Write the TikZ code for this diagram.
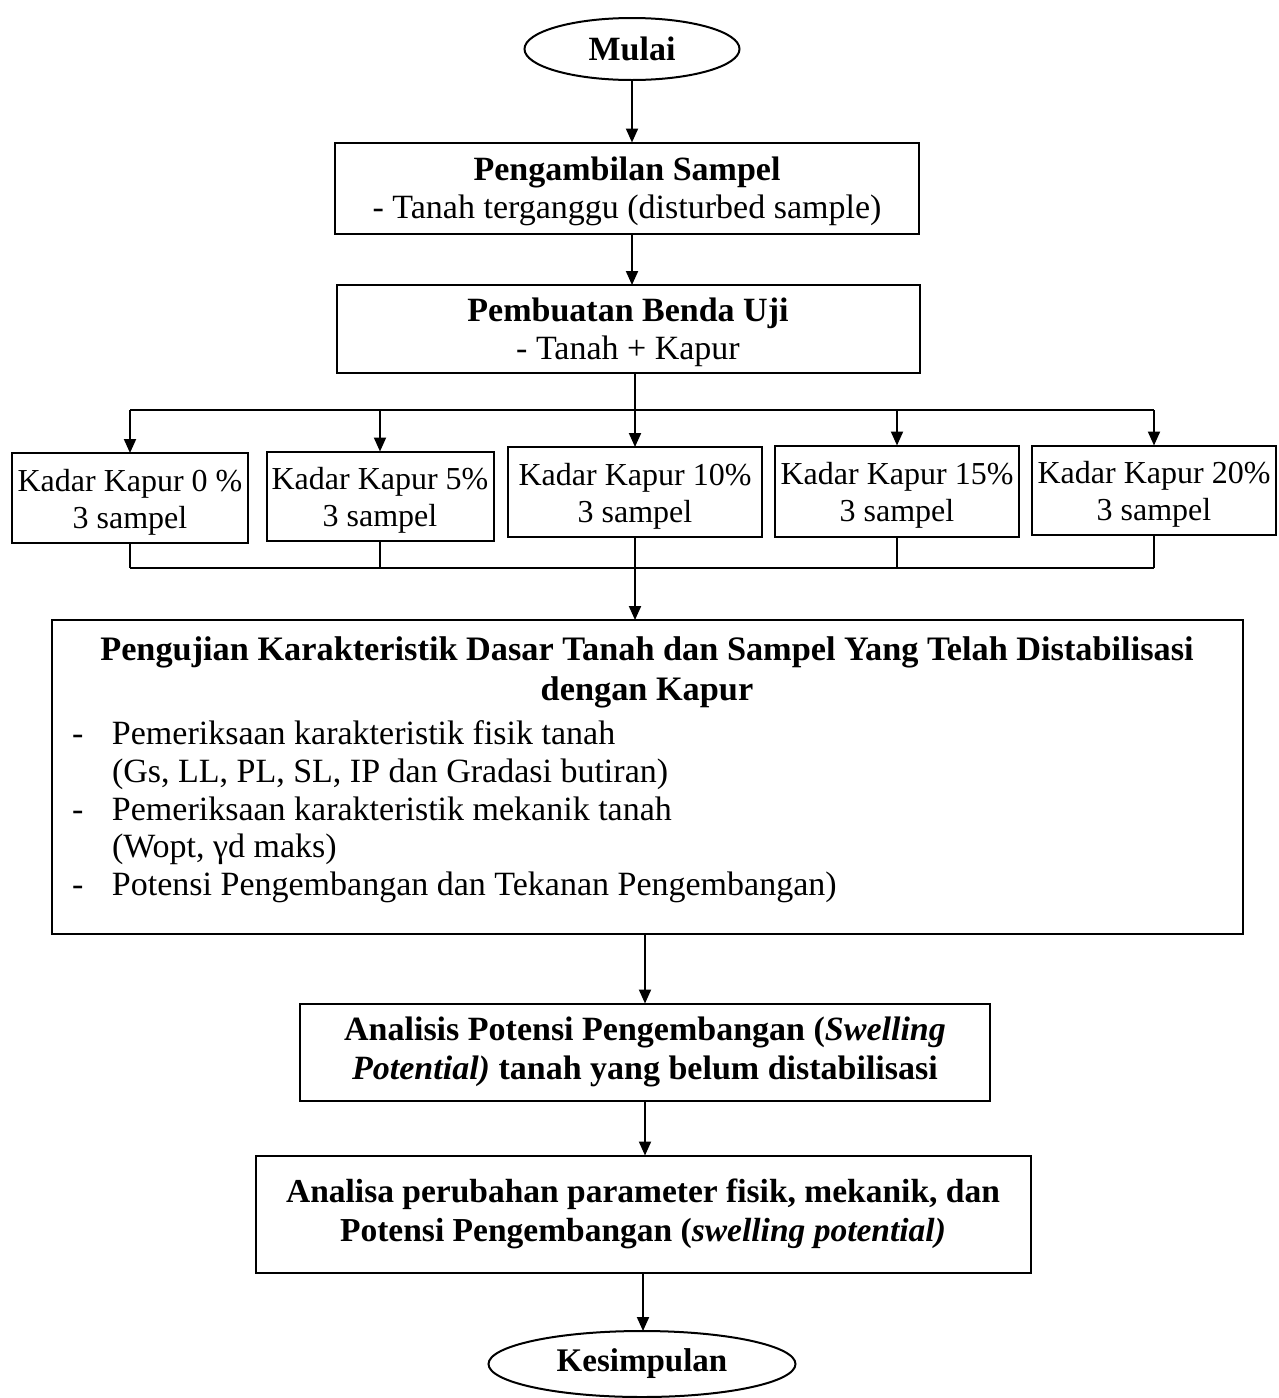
\documentclass[tikz,border=0pt]{standalone}
\usepackage{fontspec}
\setmainfont{Liberation Serif}
\usetikzlibrary{arrows.meta,shapes.geometric}
\newcommand\myup[1]{\rule{0pt}{#1}}
\begin{document}
\begin{tikzpicture}[x=1pt,y=-1pt,
  every node/.style={inner sep=0pt,outer sep=0pt},
  box/.style={draw,line width=2pt,rectangle,align=center,font=\fontsize{34}{38}\selectfont},
  kbox/.style={box,font=\fontsize{32}{37}\selectfont},
  term/.style={draw,line width=2pt,ellipse,font=\fontsize{34}{38}\selectfont\bfseries},
  ln/.style={line width=2pt},
  arr/.style={line width=2pt,-{Triangle[length=14pt,width=12pt]}}
]
\useasboundingbox (0,0) rectangle (1278,1398);
\fill[white] (0,0) rectangle (1278,1398);

\node[term,minimum width=215,minimum height=62] (mulai) at (632,49) {Mulai};
\node[box,minimum width=584,minimum height=91] (b1) at (627,188)
  {\myup{31pt}\textbf{Pengambilan Sampel}\\- Tanah terganggu (disturbed sample)};
\node[box,minimum width=583,minimum height=88] (b2) at (628,329)
  {\myup{31pt}\textbf{Pembuatan Benda Uji}\\- Tanah + Kapur};

\node[kbox,minimum width=236,minimum height=90] (k0) at (130,498) {\myup{31pt}Kadar Kapur 0 \%\\3 sampel};
\node[kbox,minimum width=227,minimum height=89] (k5) at (380,496) {\myup{31pt}Kadar Kapur 5\%\\3 sampel};
\node[kbox,minimum width=254,minimum height=90] (k10) at (635,492) {\myup{31pt}Kadar Kapur 10\%\\3 sampel};
\node[kbox,minimum width=244,minimum height=91] (k15) at (897,491) {\myup{31pt}Kadar Kapur 15\%\\3 sampel};
\node[kbox,minimum width=244,minimum height=89] (k20) at (1154,490) {\myup{31pt}Kadar Kapur 20\%\\3 sampel};

\node[draw,line width=2pt,minimum width=1191,minimum height=314] (big) at (647,777) {};
\node[align=center,font=\fontsize{34.3}{40}\selectfont\bfseries] (bigtitle) at (647,672)
  {Pengujian Karakteristik Dasar Tanah dan Sampel Yang Telah Distabilisasi\\dengan Kapur};
\node[anchor=north west,align=left,font=\fontsize{34}{37.8}\selectfont] (biglist) at (72,718)
  {\begin{tabular}{@{}p{40pt}@{}l@{}}
   - & Pemeriksaan karakteristik fisik tanah\\
     & (Gs, LL, PL, SL, IP dan Gradasi butiran)\\
   - & Pemeriksaan karakteristik mekanik tanah\\
     & (Wopt, γd maks)\\
   - & Potensi Pengembangan dan Tekanan Pengembangan)
   \end{tabular}};

\node[box,minimum width=690,minimum height=97,font=\fontsize{34}{39}\selectfont\bfseries] (an1) at (645,1052)
  {Analisis Potensi Pengembangan (\textit{Swelling}\\\textit{Potential)} tanah yang belum distabilisasi};
\node[box,minimum width=775,minimum height=117,font=\fontsize{33.5}{39}\selectfont\bfseries] (an2) at (643,1214)
  {Analisa perubahan parameter fisik, mekanik, dan\\Potensi Pengembangan (\textit{swelling potential)}};
\node[term,minimum width=307,minimum height=66,font=\fontsize{33}{38}\selectfont\bfseries] (kes) at (642,1364) {Kesimpulan};

\coordinate (topbar) at (0,410);
\coordinate (botbar) at (0,568);

\draw[arr] (mulai.south) -- (mulai.south |- b1.north);
\draw[arr] (mulai.south |- b1.south) -- (mulai.south |- b2.north);
\draw[ln] (k10.north |- b2.south) -- (k10.north |- topbar);
\draw[ln] (k0.north |- topbar) -- (k20.north |- topbar);
\foreach \k in {k0,k5,k10,k15,k20}{
  \draw[arr] (\k.north |- topbar) -- (\k.north);
  \draw[ln] (\k.south) -- (\k.south |- botbar);
}
\draw[ln] (k0.south |- botbar) -- (k20.south |- botbar);
\draw[arr] (k10.south |- botbar) -- (k10.south |- big.north);
\draw[arr] (an1.north |- big.south) -- (an1.north);
\draw[arr] (an1.south) -- (an1.south |- an2.north);
\draw[arr] (an2.south) -- (an2.south |- kes.north);
\end{tikzpicture}
\end{document}
